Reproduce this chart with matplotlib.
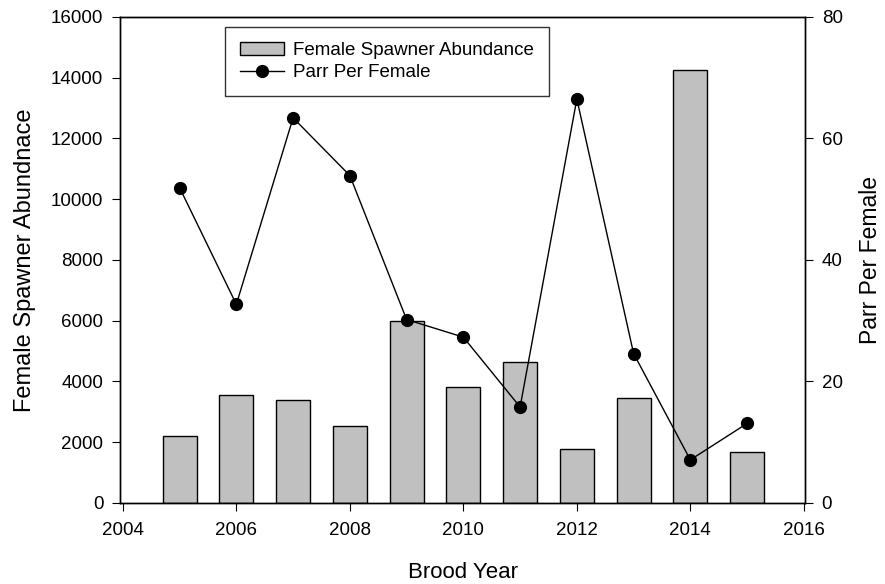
import numpy as np
import matplotlib
matplotlib.use('Agg')
import matplotlib.pyplot as plt

plt.rcParams['font.family'] = ['Liberation Sans', 'DejaVu Sans']

years = [2005, 2006, 2007, 2008, 2009, 2010, 2011, 2012, 2013, 2014, 2015]
female_abundance = [2200, 3550, 3400, 2530, 6000, 3820, 4630, 1770, 3450, 14250, 1680]
parr_per_female = [51.9, 32.7, 63.4, 53.9, 30.2, 27.3, 15.8, 66.5, 24.6, 7.1, 13.1]

fig = plt.figure(figsize=(8.85, 5.84), dpi=100)
ax = fig.add_axes([0.1356, 0.1387, 0.7740, 0.8322])

bars = ax.bar(years, female_abundance, width=0.6, color='#c0c0c0',
              edgecolor='black', linewidth=1.0, label='Female Spawner Abundance')
ax.set_xlim(2003.95, 2016.02)
ax.set_ylim(0, 16000)
ax.set_yticks(np.arange(0, 16001, 2000))
ax.set_xticks(np.arange(2004, 2017, 2))
ax.set_xlabel('Brood Year', fontsize=16, labelpad=16)
ax.set_ylabel('Female Spawner Abundnace', fontsize=17, labelpad=11)
ax.tick_params(axis='y', direction='out', length=6, pad=6, labelsize=13.5)
ax.tick_params(axis='x', direction='out', length=6, pad=8, labelsize=13.5)

ax2 = ax.twinx()
line, = ax2.plot(years, parr_per_female, '-o', color='black', linewidth=1.0,
                 markersize=8.5, label='Parr Per Female')
ax2.set_ylim(0, 80)
ax2.set_yticks(np.arange(0, 81, 20))
ax2.set_ylabel('Parr Per Female', fontsize=16.5, labelpad=12)
ax2.tick_params(direction='out', length=6, pad=6, labelsize=13.5)

for a in (ax, ax2):
    for s in a.spines.values():
        s.set_linewidth(1.0)

leg = ax.legend(handles=[bars, line], loc='upper left', bbox_to_anchor=(0.153, 0.979),
                borderaxespad=0, fontsize=13.5, frameon=True, fancybox=False,
                edgecolor='black', borderpad=0.8, handlelength=2.35,
                handletextpad=0.5, labelspacing=0.25)
leg.get_frame().set_linewidth(1.0)

fig.savefig('out.png', dpi=100)
